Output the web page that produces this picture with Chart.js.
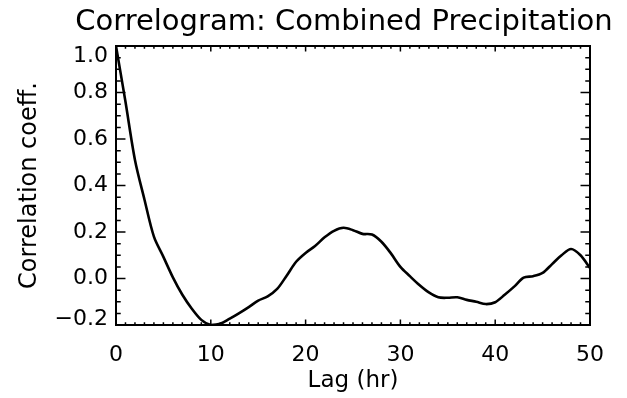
<!DOCTYPE html>
<html lang="en">
<head>
    <meta charset="UTF-8">
    <title>Correlogram: Combined Precipitation</title>
    <script src="https://cdn.jsdelivr.net/npm/chart.js"></script>
    <style>
        body {
            margin: 0;
            background: #ffffff;
        }
        canvas {
            display: block;
        }
    </style>
</head>
<body>
    <canvas id="corrChart" width="627" height="398"></canvas>
    <script>
        // lag in hours
        const lags = [0, 1, 2, 3, 4, 5, 6, 7, 8, 9,
                      10, 11, 12, 13, 14, 15, 16, 17, 18, 19,
                      20, 21, 22, 23, 24, 25, 26, 27, 28, 29,
                      30, 31, 32, 33, 34, 35, 36, 37, 38, 39,
                      40, 41, 42, 43, 44, 45, 46, 47, 48, 49, 50];
        const corr = [1.0, 0.76, 0.51, 0.34, 0.18, 0.093, 0.005, -0.07, -0.13, -0.178,
                      -0.2, -0.195, -0.173, -0.149, -0.123, -0.095, -0.077, -0.045, 0.012, 0.072,
                      0.11, 0.14, 0.177, 0.205, 0.218, 0.208, 0.192, 0.189, 0.158, 0.108,
                      0.05, 0.01, -0.028, -0.06, -0.081, -0.083, -0.081, -0.092, -0.1, -0.11,
                      -0.102, -0.07, -0.035, 0.004, 0.01, 0.024, 0.062, 0.1, 0.127, 0.1, 0.045];

        const xTicks = [0, 10, 20, 30, 40, 50];
        const xTickLabels = ['0', '10', '20', '30', '40', '50'];
        const yTicks = [-0.2, 0.0, 0.2, 0.4, 0.6, 0.8, 1.0];
        const yTickLabels = ['\u22120.2', '0.0', '0.2', '0.4', '0.6', '0.8', '1.0'];
        const xMinorStep = 1;
        const yMinorStep = 0.05;
        const titleText = 'Correlogram: Combined Precipitation';

        const FONT = "'DejaVu Sans', sans-serif";

        // IDL style frame with inward ticks on all four sides, plus title and y labels
        const frameTicks = {
            id: 'frameTicks',
            afterDatasetsDraw(chart) {
                const {ctx, chartArea: a, scales: {x, y}} = chart;
                const w = a.right - a.left, h = a.bottom - a.top;
                const yMajLen = 0.02 * w, xMajLen = 0.02 * h;
                ctx.save();
                ctx.strokeStyle = '#000';
                ctx.lineWidth = 1.5;
                // x ticks
                for (let v = xTicks[0]; v <= xTicks[xTicks.length - 1] + 1e-9; v += xMinorStep) {
                    const major = xTicks.some(t => Math.abs(t - v) < 1e-6);
                    const len = major ? xMajLen : xMajLen / 2;
                    const px = x.getPixelForValue(v);
                    ctx.beginPath();
                    ctx.moveTo(px, a.bottom); ctx.lineTo(px, a.bottom - len);
                    ctx.moveTo(px, a.top); ctx.lineTo(px, a.top + len);
                    ctx.stroke();
                }
                // y ticks
                const n = Math.round((yTicks[yTicks.length - 1] - yTicks[0]) / yMinorStep);
                for (let i = 0; i <= n; i++) {
                    const v = yTicks[0] + i * yMinorStep;
                    const major = yTicks.some(t => Math.abs(t - v) < 1e-6);
                    const len = major ? yMajLen : yMajLen / 2;
                    const py = y.getPixelForValue(v);
                    ctx.beginPath();
                    ctx.moveTo(a.left, py); ctx.lineTo(a.left + len, py);
                    ctx.moveTo(a.right, py); ctx.lineTo(a.right - len, py);
                    ctx.stroke();
                }
                ctx.lineWidth = 2;
                ctx.strokeRect(a.left, a.top, w, h);

                // y tick labels, end ones kept inside the frame like the original
                ctx.fillStyle = '#000';
                ctx.font = '22px ' + FONT;
                ctx.textAlign = 'right';
                ctx.textBaseline = 'middle';
                yTicks.forEach((v, i) => {
                    const py = Math.min(Math.max(y.getPixelForValue(v), a.top + 10), a.bottom - 6);
                    ctx.fillText(yTickLabels[i], a.left - 8, py);
                });

                // title
                ctx.font = '29px ' + FONT;
                ctx.textAlign = 'center';
                ctx.textBaseline = 'alphabetic';
                ctx.fillText(titleText, (a.left + a.right) / 2 - 9, 30);
                ctx.restore();
            }
        };

        new Chart(document.getElementById('corrChart'), {
            type: 'line',
            data: {
                datasets: [{
                    data: lags.map((l, i) => ({x: l, y: corr[i]})),
                    borderColor: '#000',
                    borderWidth: 2.6,
                    pointRadius: 0,
                    tension: 0.3,
                    fill: false
                }]
            },
            options: {
                responsive: false,
                animation: false,
                layout: {padding: {left: 0, right: 37, top: 46, bottom: 0}},
                plugins: {
                    legend: {display: false},
                    tooltip: {enabled: false},
                    title: {display: false}
                },
                scales: {
                    x: {
                        type: 'linear',
                        min: 0,
                        max: 50,
                        afterBuildTicks: s => { s.ticks = xTicks.map(v => ({value: v})); },
                        afterFit: s => { s.height = 73; },
                        grid: {display: false, drawTicks: false},
                        border: {display: false},
                        ticks: {
                            color: '#000',
                            font: {family: FONT, size: 22},
                            padding: 17,
                            maxRotation: 0,
                            callback: (v, i) => xTickLabels[i]
                        },
                        title: {
                            display: true,
                            text: 'Lag (hr)',
                            color: '#000',
                            font: {family: FONT, size: 23},
                            padding: {top: 0, bottom: 3}
                        }
                    },
                    y: {
                        min: -0.2,
                        max: 1.0,
                        afterBuildTicks: s => { s.ticks = yTicks.map(v => ({value: v})); },
                        afterFit: s => { s.width = 116; },
                        grid: {display: false, drawTicks: false},
                        border: {display: false},
                        ticks: {
                            display: false
                        },
                        title: {
                            display: true,
                            text: 'Correlation coeff.',
                            color: '#000',
                            font: {family: FONT, size: 24},
                            padding: {top: 15, bottom: 0}
                        }
                    }
                }
            },
            plugins: [frameTicks]
        });
    </script>
</body>
</html>
